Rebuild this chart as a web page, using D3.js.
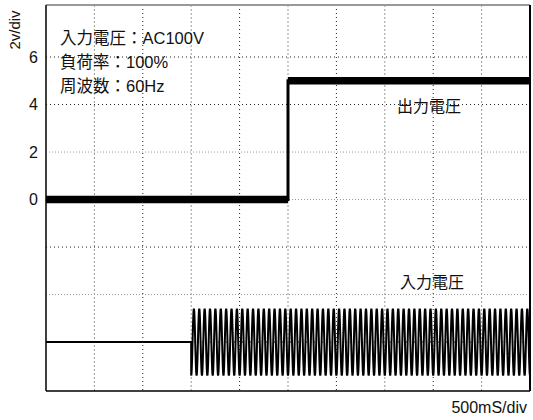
<!DOCTYPE html>
<html><head><meta charset="utf-8">
<script src="https://cdn.jsdelivr.net/npm/d3@7"></script>
<style>
html,body{margin:0;padding:0;background:#fff;}
text{font-family:"Liberation Sans","Noto Sans CJK JP",sans-serif;fill:#111;}
</style></head>
<body>
<svg id="chart" width="533" height="420"></svg>
<script>
// ---- data ----
const yTickValues = [0, 2, 4, 6];
const yTickLabels = ["0", "2", "4", "6"];
const gridY = [-6, -4, -2, 0, 2, 4, 6];
const gridX = [1, 2, 3, 4, 5, 6, 7, 8, 9];
const outputTimes = [0, 5, 5, 10];        // div (500 ms/div)
const outputValues = [0, 0, 5, 5];        // 2 V/div units
const inputFlatTimes = [0, 3];
const inputFlatValues = [-6, -6];
const inputOnTime = [3];
const inputEnd = [10];
const inputCenter = [-6];
const inputAmplitude = [1.41];
const inputCyclesPerDiv = [9];
const infoLines = ["入力電圧：AC100V", "負荷率：100%", "周波数：60Hz"];
const seriesLabels = ["出力電圧", "入力電圧"];
const yAxisTitle = "2v/div";
const xAxisTitle = "500mS/div";

// ---- chart ----
const svg = d3.select("#chart");
const x = d3.scaleLinear().domain([0, 10]).range([46, 530]);
const y = d3.scaleLinear().domain([-8.06, 8.19]).range([391, 5]);

svg.append("defs").append("clipPath").attr("id", "clip")
  .append("rect").attr("x", x(0)).attr("y", y(8.19)).attr("width", x(10) - x(0)).attr("height", y(-8.06) - y(8.19));

// grid
svg.append("g").selectAll("line").data(gridX).join("line")
  .attr("x1", d => x(d)).attr("x2", d => x(d))
  .attr("y1", y(8.19)).attr("y2", y(-8.06))
  .attr("stroke", d => d % 2 ? "#999" : "#222")
  .attr("stroke-width", 1)
  .attr("stroke-dasharray", d => d % 2 ? "2,2" : "1,3");
svg.append("g").selectAll("line").data(gridY).join("line")
  .attr("x1", x(0)).attr("x2", x(10))
  .attr("y1", d => y(d)).attr("y2", d => y(d))
  .attr("stroke", d => (d === 2 || d === 0 || d === -4) ? "#999" : "#222")
  .attr("stroke-width", 1)
  .attr("stroke-dasharray", d => (d === 2 || d === 0 || d === -4) ? "1,2" : "1,3");

// frame
svg.append("line").attr("x1", x(0)).attr("x2", x(10)).attr("y1", y(8.19)).attr("y2", y(8.19))
  .attr("stroke", "#999").attr("stroke-width", 2);
svg.append("line").attr("x1", x(0)).attr("x2", x(0)).attr("y1", y(8.19)).attr("y2", y(-8.06))
  .attr("stroke", "#000").attr("stroke-width", 1.5);
svg.append("line").attr("x1", x(10)).attr("x2", x(10)).attr("y1", y(8.19)).attr("y2", y(-8.06))
  .attr("stroke", "#000").attr("stroke-width", 2);
svg.append("line").attr("x1", x(0)).attr("x2", x(10)).attr("y1", y(-8.06)).attr("y2", y(-8.06))
  .attr("stroke", "#000").attr("stroke-width", 1.5);

const plot = svg.append("g").attr("clip-path", "url(#clip)");

// output voltage
const outPts = outputTimes.map((t, i) => [t, outputValues[i]]);
const line = d3.line().x(d => x(d[0])).y(d => y(d[1]));
plot.append("path").attr("d", line(outPts)).attr("fill", "none")
  .attr("stroke", "#000").attr("stroke-width", 3);
const horiz = d3.pairs(outPts).filter(p => p[0][1] === p[1][1]);
plot.selectAll(".hseg").data(horiz).join("line").attr("class", "hseg")
  .attr("x1", d => x(d[0][0])).attr("x2", d => x(d[1][0]))
  .attr("y1", d => y(d[0][1])).attr("y2", d => y(d[1][1]))
  .attr("stroke", "#000").attr("stroke-width", 7.5);

// input voltage
const inPts = inputFlatTimes.map((t, i) => [t, inputFlatValues[i]]);
const t0 = inputOnTime[0], t1 = inputEnd[0];
const nCycles = inputCyclesPerDiv[0] * (t1 - t0);
const samplesPerCycle = 24;
const waveT = d3.range(0, nCycles * samplesPerCycle + 1).map(k => t0 + k / samplesPerCycle / inputCyclesPerDiv[0]);
const wavePts = waveT.map(t => [t, inputCenter[0] - inputAmplitude[0] * Math.cos(2 * Math.PI * inputCyclesPerDiv[0] * (t - t0))]);
plot.append("path").attr("d", line(inPts.concat(wavePts))).attr("fill", "none")
  .attr("stroke", "#000").attr("stroke-width", 2);

// y ticks
svg.append("g").selectAll("text").data(yTickValues).join("text")
  .attr("x", 38).attr("y", d => y(d)).attr("text-anchor", "end")
  .attr("dominant-baseline", "central").attr("font-size", 16)
  .text((d, i) => yTickLabels[i]);

svg.append("text").attr("transform", "translate(20,30) rotate(-90)")
  .attr("text-anchor", "middle").attr("font-size", 15).text(yAxisTitle);
svg.append("text").attr("x", 527).attr("y", 413).attr("text-anchor", "end")
  .attr("font-size", 16).text(xAxisTitle);

// info block
svg.append("g").selectAll("text").data(infoLines).join("text")
  .attr("x", 60).attr("y", (d, i) => 44 + i * 24).attr("font-size", 16.5).text(d => d);

// series labels
svg.append("text").attr("x", 397).attr("y", 112).attr("font-size", 16).text(seriesLabels[0]);
svg.append("text").attr("x", 400).attr("y", 288).attr("font-size", 16).text(seriesLabels[1]);
</script>
</body></html>
